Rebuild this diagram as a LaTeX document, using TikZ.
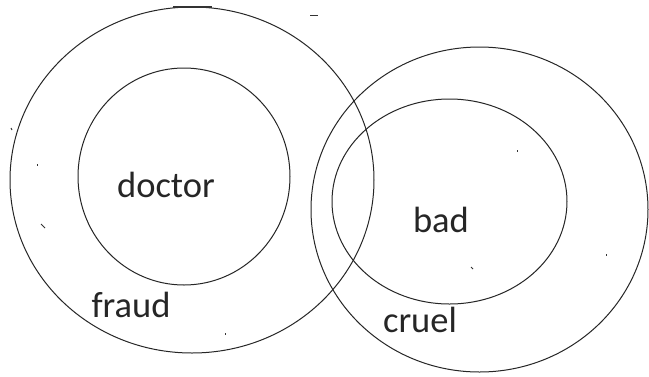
\documentclass[tikz,border=0pt]{standalone}
\usepackage{fontspec}
\setmainfont{Carlito}
\begin{document}
\begin{tikzpicture}[x=1pt, y=-1pt,
    ring/.style={line width=1pt, draw=black!85},
    word/.style={font=\fontsize{36.5}{40}\selectfont, text=black!85, anchor=base, inner sep=0pt},
    speck/.style={line width=1pt, black!80}]
    \useasboundingbox[fill=white] (0,0) rectangle (649,376);
    % left set
    \draw[ring] (192,180) ellipse (182 and 173);
    \draw[ring] (184,176.5) ellipse (106 and 108.5);
    % right set
    \draw[ring] (479.5,209.5) ellipse (168.5 and 162.5);
    \draw[ring] (449.5,201.5) ellipse (117.5 and 102.5);
    % labels
    \node[word] (doctor) at (166,197) {doctor};
    \node[word] (fraud) at (131,317) {fraud};
    \node[word] (bad) at (441,232) {bad};
    \node[word] (cruel) at (420,332) {cruel};
    % stray marks
    \draw[speck, line width=1.6pt] (173,7) -- (212,7);
    \draw[speck, line width=1.6pt] (310,15.5) -- (318,15.5);
    \draw[speck] (11,128) -- (12,130);
    \draw[speck] (37,164) -- (37,166);
    \draw[speck] (41,224) -- (45,228);
    \draw[speck] (225,333) -- (225,335);
    \draw[speck] (517,150) -- (517,152);
    \draw[speck] (606,254) -- (606,256);
    \draw[speck] (471,267) -- (473,269);
\end{tikzpicture}
\end{document}
